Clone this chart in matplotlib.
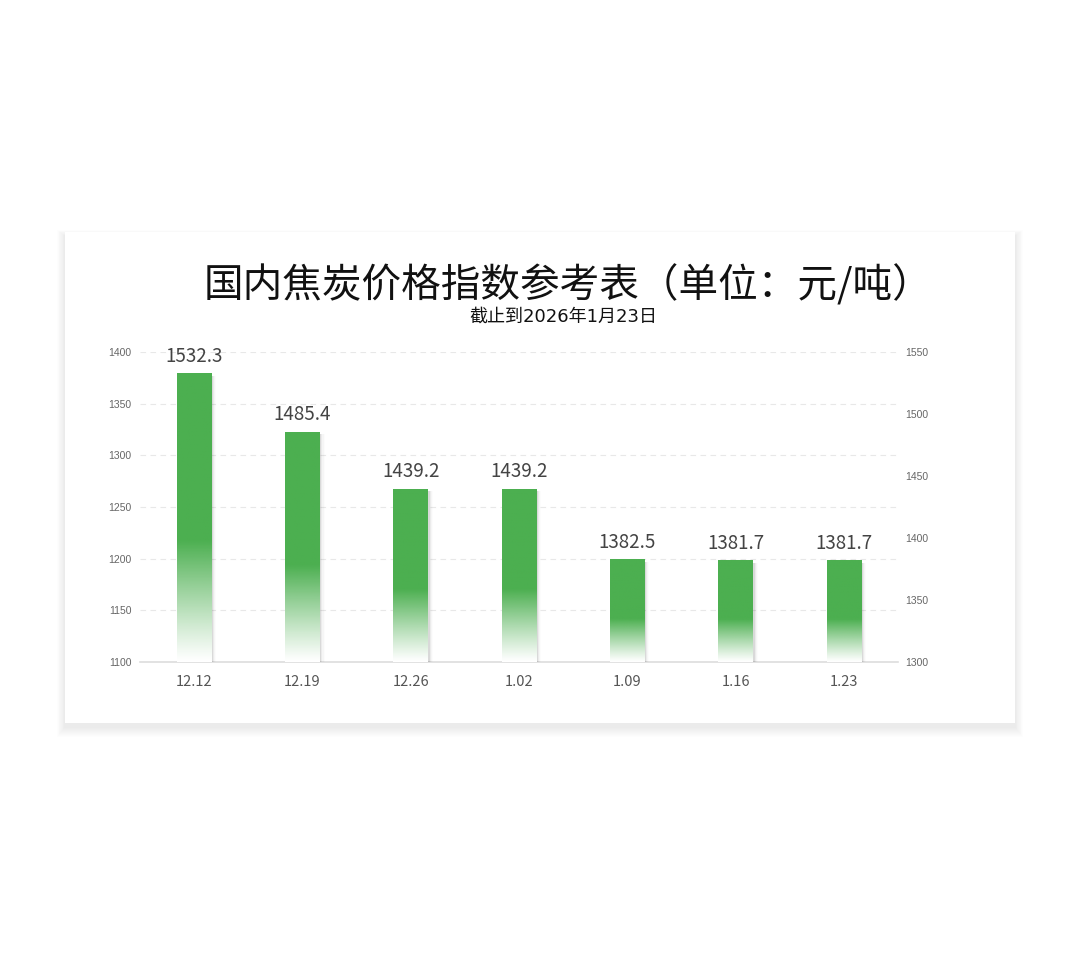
import numpy as np
import matplotlib as mpl

mpl.use('agg')

import matplotlib.pyplot as plt
from matplotlib.patches import Rectangle

plt.rcParams['font.family'] = ['Noto Sans CJK SC', 'DejaVu Sans']

dates = ['12.12', '12.19', '12.26', '1.02', '1.09', '1.16', '1.23']
prices = [1532.3, 1485.4, 1439.2, 1439.2, 1382.5, 1381.7, 1381.7]
left_ticks = [1100, 1150, 1200, 1250, 1300, 1350, 1400]
right_ticks = [1300, 1350, 1400, 1450, 1500, 1550]

title = '国内焦炭价格指数参考表（单位：元/吨）'
subtitle = '截止到2026年1月23日'

green = np.array([76, 175, 80]) / 255.0

fig = plt.figure(figsize=(10.8, 9.57), dpi=100)
fig.patch.set_facecolor('white')

# card with soft shadow
W, H = 1080, 957
cx0, cy0, cx1, cy1 = 65, 232, 1015, 723
for i in range(10, 0, -1):
    fig.patches.append(Rectangle(((cx0 - i * 0.8) / W, 1 - (cy1 + i + 4) / H),
                                 (cx1 - cx0 + 1.6 * i) / W, (cy1 - cy0 + 1.6 * i) / H,
                                 transform=fig.transFigure, facecolor='#000000',
                                 alpha=0.008, edgecolor='none', zorder=0))
fig.patches.append(Rectangle((cx0 / W, 1 - cy1 / H), (cx1 - cx0) / W, (cy1 - cy0) / H,
                             transform=fig.transFigure, facecolor='white',
                             edgecolor='none', zorder=1))

ax = fig.add_axes([140 / W, 1 - 662 / H, (898 - 140) / W, (662 - 352) / H])
ax.set_zorder(2)
ax.patch.set_alpha(0)
ax.set_ylim(1100, 1400)
ax.set_yticks(left_ticks)
ax.set_xlim(-0.5, len(dates) - 0.5)
ax.set_xticks(range(len(dates)))
ax.set_xticklabels(dates, fontsize=10.5, color='#555555')
ax.tick_params(axis='y', labelsize=7.5, labelcolor='#666666', length=0, pad=6)
ax.tick_params(axis='x', length=0, pad=9)
for lab in ax.get_yticklabels():
    lab.set_family(['Liberation Sans', 'DejaVu Sans'])
for y in left_ticks[1:]:
    ax.axhline(y, color='#e8e8e8', lw=0.8, ls=(0, (5, 4)), zorder=0)
for s in ['top', 'right', 'left']:
    ax.spines[s].set_visible(False)
ax.spines['bottom'].set_color('#dddddd')
ax.spines['bottom'].set_linewidth(1.2)

ax2 = ax.twinx()
ax2.set_ylim(1300, 1550)
ax2.set_yticks(right_ticks)
ax2.tick_params(axis='y', labelsize=7.5, labelcolor='#666666', length=0, pad=5)
for lab in ax2.get_yticklabels():
    lab.set_family(['Liberation Sans', 'DejaVu Sans'])
for s in ax2.spines.values():
    s.set_visible(False)

bars = ax2.bar(range(len(dates)), prices, width=0.32, color='none', edgecolor='none')

for b, v in zip(bars, prices):
    x0 = b.get_x()
    w = b.get_width()
    y0 = 1300
    y1 = v
    # shadow on the right
    for k, a in enumerate([0.07, 0.045, 0.025, 0.012]):
        ax2.add_patch(Rectangle((x0 + 0.015 + k * 0.01, y0), w, y1 - y0 - 1.5,
                                facecolor='#000000', alpha=a, edgecolor='none', zorder=1))
    n = 200
    t = np.linspace(0, 1, n)  # 0 bottom -> 1 top
    alpha = np.clip(t / 0.42, 0, 1) ** 1.1
    img = np.ones((n, 2, 4))
    img[:, :, 0] = green[0]
    img[:, :, 1] = green[1]
    img[:, :, 2] = green[2]
    img[:, :, 3] = alpha[:, None]
    # white base to hide shadow in faded zone
    ax2.imshow(np.ones((n, 2, 4)), extent=[x0, x0 + w, y0, y1],
               origin='lower', aspect='auto', zorder=2)
    ax2.imshow(img, extent=[x0, x0 + w, y0, y1], origin='lower', aspect='auto', zorder=3)
    ax2.annotate(f'{v}', (b.get_x() + w / 2, v), xytext=(0, 5), textcoords='offset points',
                 ha='center', va='bottom', fontsize=13.5, color='#444444', zorder=4)

ax2.set_xlim(-0.5, len(dates) - 0.5)
ax2.set_ylim(1300, 1550)

fig.text(568 / W, 1 - 286 / H, title, ha='center', va='center', fontsize=28.5, color='#111111', zorder=5)
fig.text(563 / W, 1 - 317 / H, subtitle, ha='center', va='center', fontsize=13,
         color='#111111', zorder=5, family=['DejaVu Sans', 'Noto Sans CJK SC'])

fig.savefig('out.png', dpi=100)
